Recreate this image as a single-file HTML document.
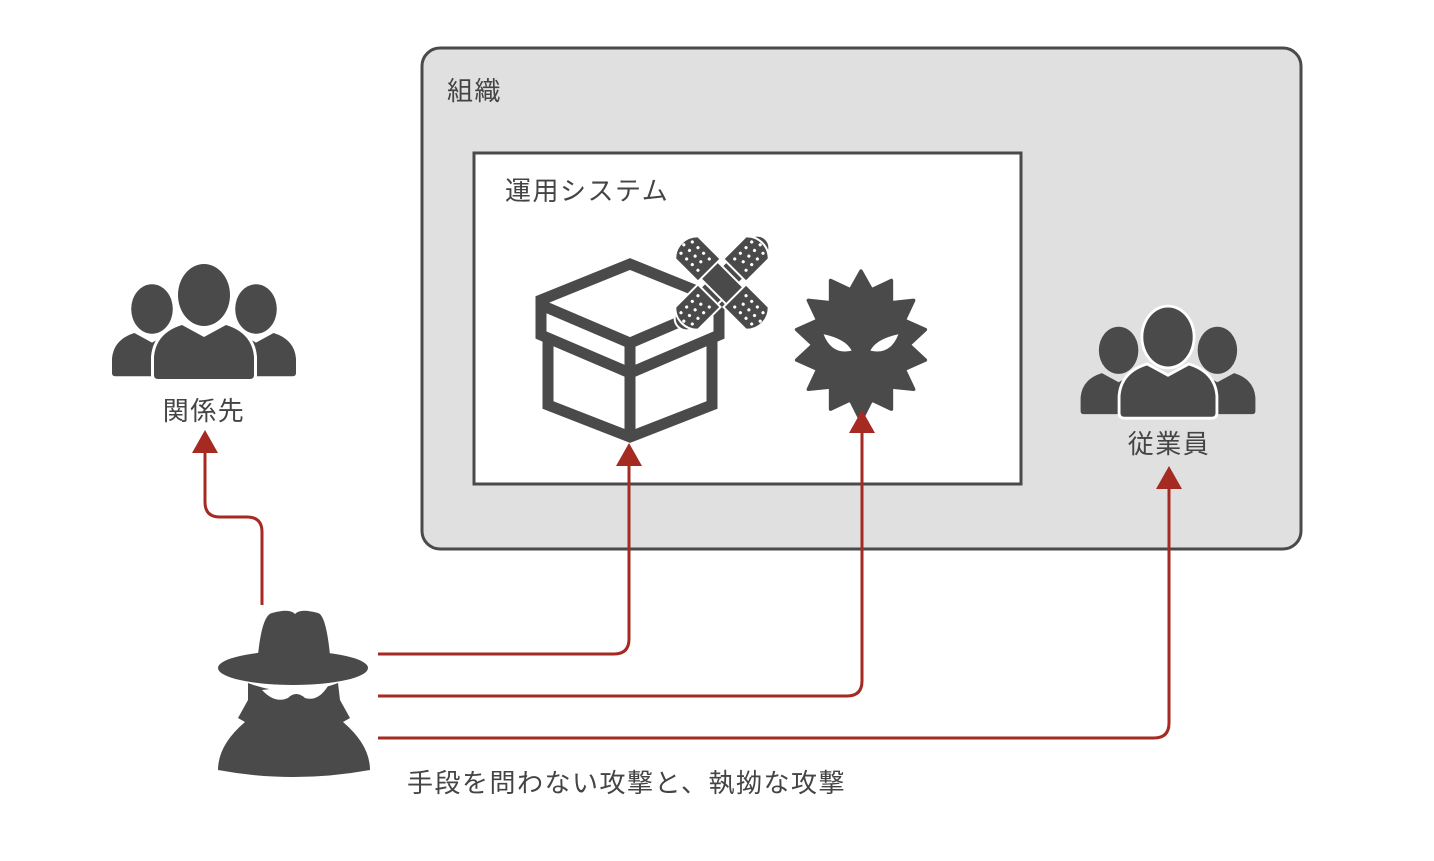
<!DOCTYPE html>
<html><head><meta charset="utf-8"><style>
body{margin:0;background:#fff;}
svg text{font-family:"Liberation Sans","Noto Sans CJK JP",sans-serif;fill:#444;letter-spacing:1.5px;}
</style></head><body>
<svg width="1434" height="856" viewBox="0 0 1434 856" xmlns="http://www.w3.org/2000/svg">
<defs>
<g id="person">
  <ellipse cx="0" cy="0" rx="26" ry="31" fill="#4a4a4a"/>
  <path d="M-50,80 L-50,62 Q-48,38 -22,30 L0,42 L22,30 Q48,38 50,62 L50,80 Q50,84 46,84 L-46,84 Q-50,84 -50,80 Z" fill="#4a4a4a"/>
</g>
<g id="group">
  <g transform="translate(-52,14) scale(0.8)"><use href="#person"/></g>
  <g transform="translate(52,14) scale(0.8)"><use href="#person"/></g>
  <g stroke="#fff" stroke-width="6"><use href="#person"/></g>
  <use href="#person"/>
</g>
<g id="pad">
  <path d="M-22,-16 L10,-16 A22,22 0 0 1 10,16 L-22,16 Z" fill="#4a4a4a" stroke="#fff" stroke-width="2"/>
  <g fill="#fff"><circle cx="-14" cy="-8" r="1.6"/><circle cx="-6" cy="-8" r="1.6"/><circle cx="2" cy="-8" r="1.6"/><circle cx="10" cy="-8" r="1.6"/>
  <circle cx="-10" cy="0" r="1.6"/><circle cx="-2" cy="0" r="1.6"/><circle cx="6" cy="0" r="1.6"/><circle cx="14" cy="0" r="1.6"/>
  <circle cx="-14" cy="8" r="1.6"/><circle cx="-6" cy="8" r="1.6"/><circle cx="2" cy="8" r="1.6"/><circle cx="10" cy="8" r="1.6"/></g>
</g>
</defs>
<rect x="422" y="48" width="879" height="501" rx="18" fill="#e0e0e0" stroke="#4a4a4a" stroke-width="3"/>
<rect x="474" y="153" width="547" height="331" fill="#fff" stroke="#4a4a4a" stroke-width="3"/>
<text x="447" y="100" font-size="26">組織</text>
<text x="505" y="200" font-size="26">運用システム</text>
<text x="204" y="420" font-size="26" text-anchor="middle">関係先</text>
<text x="1169" y="453" font-size="26" text-anchor="middle">従業員</text>
<text x="407" y="792" font-size="26">手段を問わない攻撃と、執拗な攻撃</text>

<g transform="translate(204,295)"><use href="#group"/></g>
<g transform="translate(1168,337) scale(0.95)"><use href="#group"/></g>

<!-- box -->
<g fill="none" stroke="#4a4a4a" stroke-width="11" stroke-linejoin="miter">
  <path d="M541,300 L630,264 L719,300 L719,335 L630,373 L541,335 Z"/>
  <path d="M541,305 L630,343 L719,305"/>
  <path d="M630,343 L630,437"/>
  <path d="M548,335 L548,405 L630,437 L712,405 L712,335"/>
</g>
<!-- bandage -->
<g transform="translate(722,283) rotate(-45)">
  <rect x="-62" y="-12" width="124" height="24" rx="12" fill="#4a4a4a" stroke="#fff" stroke-width="2"/>
</g>
<g transform="translate(722,283) rotate(45)">
  <rect x="-40" y="-12" width="80" height="24" fill="#4a4a4a" stroke="#fff" stroke-width="2"/>
</g>
<g transform="translate(722,283) rotate(-45) translate(40,0)"><use href="#pad"/></g>
<g transform="translate(722,283) rotate(-45) translate(-40,0) scale(-1,1)"><use href="#pad"/></g>
<g transform="translate(722,283) rotate(45) translate(40,0)"><use href="#pad"/></g>
<g transform="translate(722,283) rotate(45) translate(-40,0) scale(-1,1)"><use href="#pad"/></g>

<!-- virus -->
<g transform="translate(861,346) scale(1.17) translate(-861,-346)">
<polygon fill="#4a4a4a" stroke="#4a4a4a" stroke-width="3" stroke-linejoin="round" points="861,282 870,298 887,290 887,309 906,307 898,324 916,332 902,345 916,358 898,366 906,383 887,381 887,400 870,392 861,410 852,392 835,400 835,381 816,383 824,366 806,358 820,345 806,332 824,324 816,307 835,309 835,290 852,298"/>
<path d="M829,336 Q836,354 853,350 Q848,340 829,336Z" fill="#fff"/>
<path d="M893,336 Q886,354 869,350 Q874,340 893,336Z" fill="#fff"/>
</g>

<!-- spy -->
<g fill="#4a4a4a">
  <path d="M258,655 Q262,615 272,613 Q290,608 295,614 Q300,608 318,613 Q326,615 330,655 Z"/>
  <ellipse cx="293" cy="668" rx="75" ry="17"/>
  <path d="M248,683 Q293,700 338,683 L340,700 L350,718 L343,722 Q370,745 370,770 Q293,784 218,770 Q218,745 245,722 L238,718 L248,700 Z"/>
</g>
<path d="M262,690 Q293,686 328,686 Q318,702 305,698 Q296,690 288,698 Q275,704 262,690Z" fill="#fff"/>

<!-- arrows -->
<g fill="none" stroke="#a52a22" stroke-width="3">
  <path d="M262,605 L262,532 Q262,517 247,517 L220,517 Q205,517 205,502 L205,450"/>
  <path d="M378,654 L614,654 Q629,654 629,639 L629,465"/>
  <path d="M378,696 L847,696 Q862,696 862,681 L862,432"/>
  <path d="M378,738 L1154,738 Q1169,738 1169,723 L1169,488"/>
</g>
<g fill="#a52a22">
  <polygon points="205,430 192,453 218,453"/>
  <polygon points="629,443 616,466 642,466"/>
  <polygon points="862,410 849,433 875,433"/>
  <polygon points="1169,466 1156,489 1182,489"/>
</g>
</svg>
</body></html>
